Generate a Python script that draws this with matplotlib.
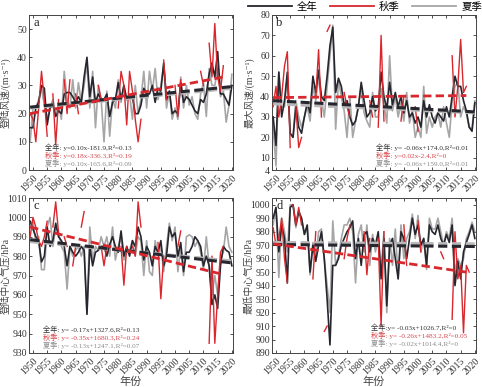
import numpy as np
import matplotlib
matplotlib.use('Agg')
import matplotlib.pyplot as plt
from matplotlib.lines import Line2D

plt.rcParams['font.family'] = ['Liberation Serif', 'Noto Sans CJK SC', 'DejaVu Sans']
plt.rcParams['axes.unicode_minus'] = False

nan = np.nan
years = np.arange(1949, 2021)

# ---- panel a: landing wind speed
a_all = [15, 15, 22, 24, 30, 29, 16, 22, 23, 19,
         21, 20, 27, 27.5, 27.5, 26, 24, 26, 24, 33,
         40, 26, 33, 24, 27, 25, 25, 27, 19, 24,
         25, 31, 25, 30, 25, 26, 26, 20, 20, 23,
         29, 27, 27, 30, 24, 29, 28, 38, 25, 28,
         20, 21, 20, 31, 24, 26, 25, 23, 21, 20,
         25, 24, 27, 34, 38, 33, 42, 27, 27, 25,
         23, 30]
a_sum = [10, 22, 22, 25, 29, 23, 18, 22, 25, 20,
         23, 18, 35, 25, 22, 32, 22, 31, 24, 30,
         38, 22, 35, 15, 30, 25, 10, 28, 12, 25,
         22, 32, 24, 30, 25, 27, 18, 30, 20, 25,
         35, 22, 35, 28, 36, 25, 30, 37, 22, 28,
         18, 22, 18, 33, 22, 30, 23, 26, 20, 18,
         27, 31, 19, 36, 30, 30, 36, 26, 28, 17,
         23, 34]
a_aut = [20, 18, 10, 22, 35, 25, 12, nan, 27, 9,
         25, nan, 32, 20, 32, nan, 27, 20, nan, nan,
         nan, nan, nan, nan, 30, 25, nan, nan, nan, nan,
         nan, 22, 35, 30, 16, 35, 28, 18, 10, 18,
         nan, nan, nan, nan, nan, nan, nan, 39, 25, nan,
         nan, 30, 19, 32, nan, nan, nan, nan, nan, nan,
         35, 30, nan, 45, 33, 52, 33, 28, 37, nan,
         nan, nan]

# ---- panel b: max wind speed
b_all = [30, 16, 52, 30, 38, 52, 22, 20, 35, 25,
         22, 30, 37, 32, 50, 42, 53, 40, 38, 50,
         65, 74, 42, 49, 45, 36, 38, 30, 26, 28,
         35, 47, 38, 30, 32, 40, 33, 35, 52, 40,
         34, 47, 36, 42, 35, 40, 32, 38, 30, 32,
         27, 30, 25, 38, 30, 36, 30, 27, 32, 30,
         28, 35, 30, 40, 50, 45, 45, 38, 33, 25,
         23, 37]
b_sum = [25, 6, 52, 35, 35, 50, 22, 20, 38, 30,
         25, 30, 35, 28, 45, 38, 50, 38, 30, 45,
         60, 75, 24, 48, 40, 33, 20, 40, 20, 28,
         35, 45, 32, 28, 25, 42, 30, 30, 44, 36,
         27, 60, 33, 40, 30, 37, 28, 42, 27, 33,
         20, 25, 20, 45, 22, 30, 25, 30, 32, 25,
         35, 27, 20, 38, 45, 47, 30, 35, 32, 25,
         24, 38]
b_aut = [35, 45, 30, 40, 55, 62, 15, nan, 35, 15,
         20, nan, nan, nan, nan, 40, 63, 30, nan, 72,
         75, nan, nan, nan, nan, 42, 35, 30, nan, nan,
         nan, nan, nan, nan, 38, 30, nan, 25, 70, 28,
         nan, nan, nan, nan, nan, 28, 40, nan, nan, nan,
         35, 23, nan, nan, nan, nan, nan, nan, nan, nan,
         nan, nan, nan, 60, 30, 45, 68, 42, 45, nan,
         nan, nan]

# ---- panel c: landing central pressure
c_all = [998, 994, 990, 988, 977, 980, 995, 985, 988, 997,
         990, 988, 985, 975, 985, 982, 980, 982, 985, 983,
         950, 985, 975, 982, 983, 985, 985, 980, 986, 990,
         985, 982, 993, 980, 985, 980, 988, 985, 995, 990,
         978, 985, 982, 975, 985, 982, 988, 975, 980, 995,
         990, 992, 980, 987, 972, 982, 982, 985, 990, 988,
         985, 975, 980, 975, 955, 960, 953, 975, 985, 983,
         982, 975]
c_sum = [995, 998, 987, 990, 973, 973, 995, 1000, 985, 995,
         992, 985, 982, 963, 985, 980, 983, 985, 980, 985,
         950, 995, 978, 985, 983, 990, 985, 990, 980, 995,
         978, 985, 990, 978, 982, 983, 988, 980, 990, 988,
         970, 988, 972, 970, 988, 980, 985, 972, 985, 997,
         988, 995, 972, 985, 970, 990, 991, 990, 985, 988,
         982, 973, 990, 975, 960, 970, 960, 978, 982, 995,
         985, 982]
c_aut = [990, 1000, 995, 988, 985, 990, 998, nan, 995, 1008,
         992, nan, 990, 985, nan, 975, 985, nan, 995, 1003,
         nan, nan, nan, nan, nan, 985, 975, 985, nan, nan,
         nan, nan, 985, 965, 985, nan, 985, 980, 1008, 995,
         nan, nan, nan, nan, nan, 987, 958, 980, nan, nan,
         nan, nan, 985, 993, nan, nan, nan, nan, nan, nan,
         nan, nan, nan, 935, 980, 935, 960, 982, 985, nan,
         nan, nan]

# ---- panel d: minimum central pressure
d_all = [990, 998, 965, 985, 975, 942, 998, 1000, 985, 995,
         990, 978, 985, 950, 970, 958, 970, 980, 960, 930,
         896, 955, 955, 960, 970, 975, 980, 983, 988, 960,
         975, 955, 978, 980, 965, 975, 970, 980, 945, 975,
         925, 970, 975, 960, 945, 980, 975, 960, 975, 990,
         978, 985, 970, 975, 955, 985, 980, 978, 985, 975,
         970, 978, 972, 985, 940, 958, 945, 965, 972, 978,
         985, 975]
d_sum = [985, 998, 946, 990, 980, 965, 1000, 1000, 983, 995,
         990, 978, 982, 948, 972, 960, 980, 982, 960, 940,
         920, 988, 955, 962, 975, 985, 985, 990, 980, 942,
         978, 985, 965, 985, 955, 978, 965, 975, 950, 980,
         920, 975, 955, 982, 945, 985, 960, 975, 980, 993,
         975, 992, 965, 975, 952, 990, 982, 982, 990, 980,
         970, 980, 975, 990, 950, 960, 955, 960, 975, 980,
         987, 980]
d_aut = [983, 970, 975, 990, 960, 942, nan, 1000, 985, 998,
         985, nan, nan, nan, 945, 980, nan, nan, 906, 910,
         nan, nan, nan, nan, nan, 960, 975, 985, nan, nan,
         nan, nan, 980, 948, 975, nan, nan, 975, 910, 980,
         nan, nan, nan, nan, nan, nan, 985, 955, nan, nan,
         nan, 988, 965, nan, nan, nan, nan, nan, nan, 965,
         960, nan, nan, 915, 980, 945, 955, 905, 955, 950,
         nan, nan]

# trend lines: [start value, end value] over [start year, end year]
trend_years = {'all': [1949, 2020], 'sum': [1949, 2020], 'aut': [1949, 2017]}
a_trend = {'all': [22.3, 29.6], 'sum': [22.0, 29.0], 'aut': [20.0, 33.0]}
b_trend = {'all': [38.0, 32.5], 'sum': [36.5, 32.0], 'aut': [39.5, 40.5]}
c_trend = {'all': [988.5, 976.5], 'sum': [987.5, 977.5], 'aut': [995.0, 970.5]}
d_trend = {'all': [970.5, 969.0], 'sum': [972.0, 971.0], 'aut': [971.0, 950.0]}

a_text = ['全年: y=0.10x-181.9,R²=0.13', '秋季: y=0.18x-336.3,R²=0.19', '夏季: y=0.10x-165.6,R²=0.09']
b_text = ['全年: y= -0.06x+174.0,R²=0.01', '秋季: y=0.02x-2.4,R²=0', '夏季: y= -0.06x+159.0,R²=0.01']
c_text = ['全年: y= -0.17x+1327.6,R²=0.13', '秋季: y= -0.35x+1680.3,R²=0.24', '夏季: y= -0.13x+1247.1,R²=0.07']
d_text = ['全年:y= -0.03x+1026.7,R²=0', '秋季: y= -0.26x+1483.2,R²=0.05', '夏季: y= -0.02x+1014.4,R²=0']

labels = ['全年', '秋季', '夏季']
col_all = '#26262e'
col_aut = '#d8272d'
col_sum = '#a6a6a6'
col_txt = ['#333333', '#d8474c', '#8c8c8c']

fig = plt.figure(figsize=(4.82, 3.87), dpi=100)
W, H = 482, 387


def make_ax(x0, y0, x1, y1):
    return fig.add_axes([x0 / W, 1 - y1 / H, (x1 - x0) / W, (y1 - y0) / H])


panels = [
    (make_ax(29, 15, 233, 170), a_all, a_sum, a_aut, a_trend, a_text, 'a',
     '登陆风速/(m·s⁻¹)', (0, 55), [0, 10, 20, 30, 40, 50], (45, 147), False, -0.09),
    (make_ax(272, 15, 476, 170), b_all, b_sum, b_aut, b_trend, b_text, 'b',
     '最大风速/(m·s⁻¹)', (4, 80), [4, 10, 20, 30, 40, 50, 60, 70, 80], (376, 147), False, -0.085),
    (make_ax(29, 198, 233, 353), c_all, c_sum, c_aut, c_trend, c_text, 'c',
     '登陆中心气压/hPa', (930, 1010), list(range(930, 1011, 10)), (43, 329), True, -0.09),
    (make_ax(272, 198, 476, 353), d_all, d_sum, d_aut, d_trend, d_text, 'd',
     '最低中心气压/hPa', (890, 1005), list(range(890, 1001, 10)), (371, 327), True, -0.09),
]

for ax, s_all, s_sum, s_aut, trend, txt, letter, ylab, ylim, yticks, tpos, show_xlab, ylx in panels:
    ax.plot(years, s_sum, color=col_sum, lw=1.2, zorder=2)
    ax.plot(years, s_all, color=col_all, lw=1.2, zorder=3)
    ax.plot(years, s_aut, color=col_aut, lw=1.0, zorder=4)
    ax.plot(trend_years['sum'], trend['sum'], color='#b8b8b8', lw=2.2, ls=(0, (3, 1.5)), zorder=5)
    ax.plot(trend_years['all'], trend['all'], color=col_all, lw=2.2, ls=(0, (3, 1.5)), zorder=6)
    ax.plot(trend_years['aut'], trend['aut'], color=col_aut, lw=2.0, ls=(0, (3, 1.5)), zorder=7)

    ax.set_xlim(1948.6, 2020.4)
    ax.set_ylim(*ylim)
    ax.set_yticks(yticks)
    ax.set_xticks(range(1950, 2021, 5))
    ax.set_xticklabels([str(y) for y in range(1950, 2021, 5)], rotation=45,
                       ha='right', rotation_mode='anchor', fontsize=7)
    ax.tick_params(axis='both', direction='in', length=2.5, width=0.6,
                   top=True, right=True, labelsize=7, pad=1.5, colors='#333333')
    ax.tick_params(axis='x', pad=2.5, labelsize=7)
    for sp in ax.spines.values():
        sp.set_linewidth(0.7)
        sp.set_color('#444444')
    ax.set_ylabel(ylab, fontsize=7, color='#444444')
    ax.yaxis.set_label_coords(ylx, 0.5)
    ax.text(0.02, 0.985, letter, transform=ax.transAxes, ha='left', va='top',
            fontsize=9, color='#222222')
    for i, t in enumerate(txt):
        fig.text(tpos[0] / W, 1 - (tpos[1] + i * 8) / H, t,
                 ha='left', va='center', fontsize=5.2, color=col_txt[i])
    if show_xlab:
        ax.set_xlabel('年份', fontsize=8, labelpad=0, color='#444444')

handles = [Line2D([], [], color=col_all, lw=1.3),
           Line2D([], [], color=col_aut, lw=1.3),
           Line2D([], [], color=col_sum, lw=1.3)]
fig.legend(handles, labels, loc='center', bbox_to_anchor=(365 / W, 1 - 7 / H), ncol=3,
           frameon=False, fontsize=7.5, handlelength=4.2, columnspacing=1.2,
           handletextpad=0.5, borderpad=0)

fig.savefig('out.png', dpi=100)
